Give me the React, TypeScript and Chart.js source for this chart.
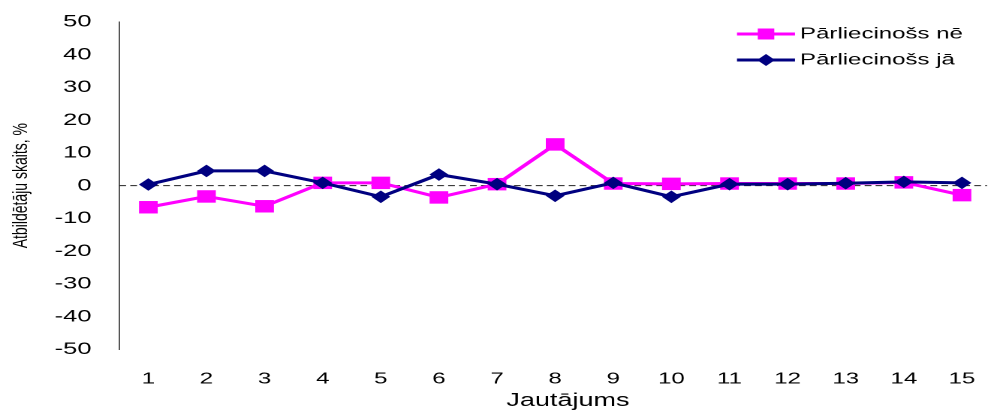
import React, { useEffect, useRef } from "react";
import { Chart, registerables } from "chart.js";

Chart.register(...registerables);

// ---- data ----
const categories = ["1", "2", "3", "4", "5", "6", "7", "8", "9", "10", "11", "12", "13", "14", "15"];
const seriesNe = [-6.6, -3.3, -6.3, 0.85, 0.85, -3.6, 0.45, 12.6, 0.65, 0.55, 0.65, 0.65, 0.65, 1.0, -2.9];
const seriesJa = [0.35, 4.5, 4.5, 0.85, -3.4, 3.4, 0.45, -3.1, 0.85, -3.4, 0.45, 0.45, 0.75, 1.15, 0.85];
const seriesLabels = ["Pārliecinošs nē", "Pārliecinošs jā"];
const seriesColors = ["#FF00FF", "#000080"];
const yMin = -50;
const yMax = 50;
const yStep = 10;
const xTitle = "Jautājums";
const yTitle = "Atbildētāju skaits, %";

// ---- layout (inner drawing space, stretched horizontally to the output) ----
const OUT_W = 991;
const OUT_H = 410;
const IN_W = 660;
const SX = OUT_W / IN_W;
const FONT = '"Liberation Sans", Arial, sans-serif';

const zeroLinePlugin = {
  id: "zeroLine",
  beforeDatasetsDraw(chart: any) {
    const { ctx, chartArea, scales } = chart;
    const y = scales.y.getPixelForValue(0);
    ctx.save();
    ctx.strokeStyle = "#222222";
    ctx.lineWidth = 1;
    ctx.setLineDash([4.5, 2.8]);
    ctx.beginPath();
    ctx.moveTo(chartArea.left, y);
    ctx.lineTo(987 / SX, y);
    ctx.stroke();
    ctx.restore();
  },
};

const xTitlePlugin = {
  id: "xTitle",
  afterDraw(chart: any) {
    const { ctx } = chart;
    ctx.save();
    ctx.fillStyle = "#000000";
    ctx.font = `18px ${FONT}`;
    ctx.textAlign = "center";
    ctx.textBaseline = "middle";
    ctx.fillText(xTitle, 568 / SX, 401);
    ctx.restore();
  },
};

const legendPlugin = {
  id: "customLegend",
  afterDraw(chart: any) {
    const { ctx } = chart;
    const x0 = 737 / SX;
    const x1 = 795 / SX;
    const xm = (x0 + x1) / 2;
    const tx = 800 / SX;
    const ys = [34, 60];
    ctx.save();
    seriesLabels.forEach((label, i) => {
      const y = ys[i];
      ctx.strokeStyle = seriesColors[i];
      ctx.fillStyle = seriesColors[i];
      ctx.lineWidth = 3;
      ctx.beginPath();
      ctx.moveTo(x0, y);
      ctx.lineTo(x1, y);
      ctx.stroke();
      if (i === 0) {
        ctx.fillRect(xm - 5.5, y - 5.5, 11, 11);
      } else {
        ctx.beginPath();
        ctx.moveTo(xm - 6, y);
        ctx.lineTo(xm, y - 6);
        ctx.lineTo(xm + 6, y);
        ctx.lineTo(xm, y + 6);
        ctx.closePath();
        ctx.fill();
      }
      ctx.fillStyle = "#000000";
      ctx.font = `16px ${FONT}`;
      ctx.textBaseline = "middle";
      ctx.textAlign = "left";
      ctx.fillText(label, tx, y);
    });
    ctx.restore();
  },
};

export default function App() {
  const canvasRef = useRef<HTMLCanvasElement | null>(null);

  useEffect(() => {
    document.body.style.margin = "0";
    const canvas = canvasRef.current;
    if (!canvas) return;
    const chart = new Chart(canvas, {
      type: "line",
      data: {
        labels: categories,
        datasets: [
          {
            label: seriesLabels[0],
            data: seriesNe,
            borderColor: seriesColors[0],
            backgroundColor: seriesColors[0],
            borderWidth: 3,
            pointStyle: "rect",
            pointRadius: 8.8,
            pointBorderWidth: 0,
            pointBackgroundColor: seriesColors[0],
            tension: 0,
            clip: false,
            order: 1,
          },
          {
            label: seriesLabels[1],
            data: seriesJa,
            borderColor: seriesColors[1],
            backgroundColor: seriesColors[1],
            borderWidth: 3,
            pointStyle: "rectRot",
            pointRadius: 6.3,
            pointBorderWidth: 0,
            pointBackgroundColor: seriesColors[1],
            tension: 0,
            clip: false,
            order: 0,
          },
        ],
      },
      options: {
        responsive: false,
        animation: false,
        devicePixelRatio: 2,
        layout: { autoPadding: false, padding: { top: 22, right: -2, bottom: 0, left: 0 } },
        plugins: {
          legend: { display: false },
          tooltip: { enabled: false },
        },
        scales: {
          x: {
            type: "category",
            offset: true,
            grid: { display: false, drawTicks: false, tickLength: 0 },
            border: { display: false },
            ticks: {
              color: "#000000",
              padding: 20,
              font: { family: FONT, size: 16 },
              maxRotation: 0,
              autoSkip: false,
            },
            title: { display: false, text: xTitle },
            afterFit(scale: any) {
              scale.height = 60.7;
              scale.paddingLeft = -2;
              scale.paddingRight = -2;
            },
          },
          y: {
            min: yMin,
            max: yMax,
            grid: { display: false, drawTicks: false, tickLength: 0 },
            border: { display: true, color: "#555555", width: 1 },
            ticks: {
              stepSize: yStep,
              color: "#000000",
              padding: 18.5,
              font: { family: FONT, size: 17 },
            },
            title: {
              display: true,
              text: yTitle,
              color: "#000000",
              font: { family: FONT, size: 14 },
              padding: { top: 5.5, bottom: 0 },
            },
            afterFit(scale: any) {
              scale.width = 119.3 / SX;
              scale.paddingTop = 0;
              scale.paddingBottom = 0;
            },
          },
        },
      },
      plugins: [zeroLinePlugin, legendPlugin, xTitlePlugin],
    });
    return () => chart.destroy();
  }, []);

  return (
    <canvas
      ref={canvasRef}
      width={IN_W}
      height={OUT_H}
      style={{ width: `${OUT_W}px`, height: `${OUT_H}px`, display: "block" }}
    />
  );
}
